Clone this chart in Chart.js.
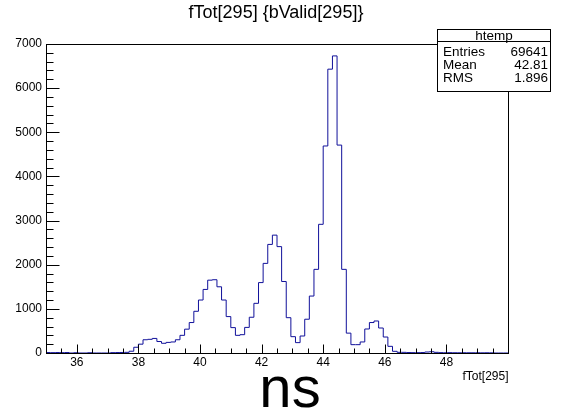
<!DOCTYPE html>
<html>
<head>
<meta charset="utf-8">
<script src="https://cdn.jsdelivr.net/npm/chart.js@4.4.0/dist/chart.umd.min.js"></script>
<style>
html, body { margin: 0; padding: 0; background: #fff; }
</style>
</head>
<body>
<canvas id="c" width="562" height="414"></canvas>
<script>
// histogram data
const histTitle = 'fTot[295] {bValid[295]}';
const xTitle = 'fTot[295]';
const unitText = 'ns';
const statsName = 'htemp';
const statsLabels = ['Entries', 'Mean', 'RMS'];
const statsValues = ['69641', '42.81', '1.896'];

const xMin = 35;
const xMax = 50;
const binWidth = 0.15;
const xTickLabels = [36, 38, 40, 42, 44, 46, 48];
const yTickLabels = [0, 1000, 2000, 3000, 4000, 5000, 6000, 7000];

const counts = [
    10, 8, 10, 8, 10, 0, 6, 0, 0, 6,
    0, 0, 0, 0, 8, 10, 12, 15, 40, 130,
    200, 300, 310, 330, 260, 220, 240, 250, 300, 400,
    540, 690, 945, 1200, 1440, 1650, 1660, 1500, 1200, 825,
    575, 400, 415, 580, 810, 1125, 1595, 2030, 2460, 2670,
    2410, 1620, 800, 370, 235, 385, 765, 1290, 1895, 2915,
    4690, 6430, 6730, 4710, 1895, 450, 189, 189, 250, 544,
    690, 725, 566, 362, 151, 38, 15, 15, 10, 8,
    8, 10, 22, 28, 15, 8, 6, 8, 6, 5,
    6, 5, 5, 6, 4, 5, 4, 0, 0, 0
];

const FONT = '"Liberation Sans", Arial, Helvetica, sans-serif';

function getPoints() {
    const pts = counts.map((c, i) => ({x: xMin + i * binWidth, y: c}));
    pts.push({x: xMax, y: counts[counts.length - 1]});
    return pts;
}

// ROOT-like frame, inside ticks and texts
const rootDecor = {
    id: 'rootDecor',
    afterDraw(chart) {
        const ctx = chart.ctx;
        const a = chart.chartArea;
        const xs = chart.scales.x;
        const ys = chart.scales.y;
        const L = Math.round(a.left) + 0.5, R = Math.round(a.right) + 0.5;
        const T = Math.round(a.top) + 0.5, B = Math.round(a.bottom) + 0.5;

        ctx.save();
        ctx.strokeStyle = '#000';
        ctx.lineWidth = 1;
        ctx.beginPath();
        for (let v = xMin + 0.5; v < xMax; v += 0.5) {
            const px = Math.round(xs.getPixelForValue(v)) + 0.5;
            const len = xTickLabels.includes(v) ? 9 : 5;
            ctx.moveTo(px, B);
            ctx.lineTo(px, B - len);
        }
        for (let v = 200; v < 7000; v += 200) {
            const py = Math.round(ys.getPixelForValue(v)) + 0.5;
            const len = (v % 1000 === 0) ? 13 : 7;
            ctx.moveTo(L, py);
            ctx.lineTo(L + len, py);
        }
        ctx.stroke();
        ctx.strokeRect(L, T, R - L, B - T);

        // title
        ctx.fillStyle = '#000';
        ctx.font = '18px ' + FONT;
        ctx.textAlign = 'center';
        ctx.textBaseline = 'middle';
        ctx.fillText(histTitle, 276, 13);

        // stats box
        const bx = 437.5, by = 29.5, bw = 113, bh = 62;
        ctx.fillStyle = '#fff';
        ctx.fillRect(bx, by, bw, bh);
        ctx.strokeRect(bx, by, bw, bh);
        ctx.beginPath();
        ctx.moveTo(bx, 41.5);
        ctx.lineTo(bx + bw, 41.5);
        ctx.stroke();
        ctx.fillStyle = '#000';
        ctx.font = '13.5px ' + FONT;
        ctx.textAlign = 'center';
        ctx.fillText(statsName, bx + bw / 2, 36);
        statsLabels.forEach((lab, i) => {
            const yy = 52 + i * 13;
            ctx.textAlign = 'left';
            ctx.fillText(lab, 443, yy);
            ctx.textAlign = 'right';
            ctx.fillText(statsValues[i], 548, yy);
        });

        // axis title
        ctx.font = '12px ' + FONT;
        ctx.textAlign = 'right';
        ctx.textBaseline = 'alphabetic';
        ctx.fillText(xTitle, R, 380);

        // unit
        ctx.font = '58px ' + FONT;
        ctx.textAlign = 'center';
        ctx.fillText(unitText, 290, 407);
        ctx.restore();
    }
};

const config = {
    type: 'line',
    data: {
        datasets: [{
            label: statsName,
            data: getPoints(),
            borderColor: '#10109a',
            borderWidth: 1,
            pointRadius: 0,
            fill: false,
            stepped: true,
            tension: 0
        }]
    },
    options: {
        responsive: false,
        animation: false,
        devicePixelRatio: 1,
        layout: { padding: { top: 44, right: 54, left: 0, bottom: 0 } },
        plugins: { legend: { display: false }, tooltip: { enabled: false } },
        scales: {
            x: {
                type: 'linear',
                min: xMin,
                max: xMax,
                afterBuildTicks: s => { s.ticks = xTickLabels.map(v => ({value: v})); },
                afterFit: s => { s.height = 61; },
                grid: { display: false, drawTicks: false },
                border: { display: false },
                ticks: { color: '#000', font: { family: FONT, size: 12 }, padding: 2, maxRotation: 0, autoSkip: false,
                         callback: v => String(v) }
            },
            y: {
                type: 'linear',
                min: 0,
                max: 7000,
                afterBuildTicks: s => { s.ticks = yTickLabels.map(v => ({value: v})); },
                afterFit: s => { s.width = 46; },
                grid: { display: false, drawTicks: false },
                border: { display: false },
                ticks: { color: '#000', font: { family: FONT, size: 12 }, padding: 4,
                         callback: v => String(v) }
            }
        }
    },
    plugins: [rootDecor]
};

new Chart(document.getElementById('c'), config);
</script>
</body>
</html>
